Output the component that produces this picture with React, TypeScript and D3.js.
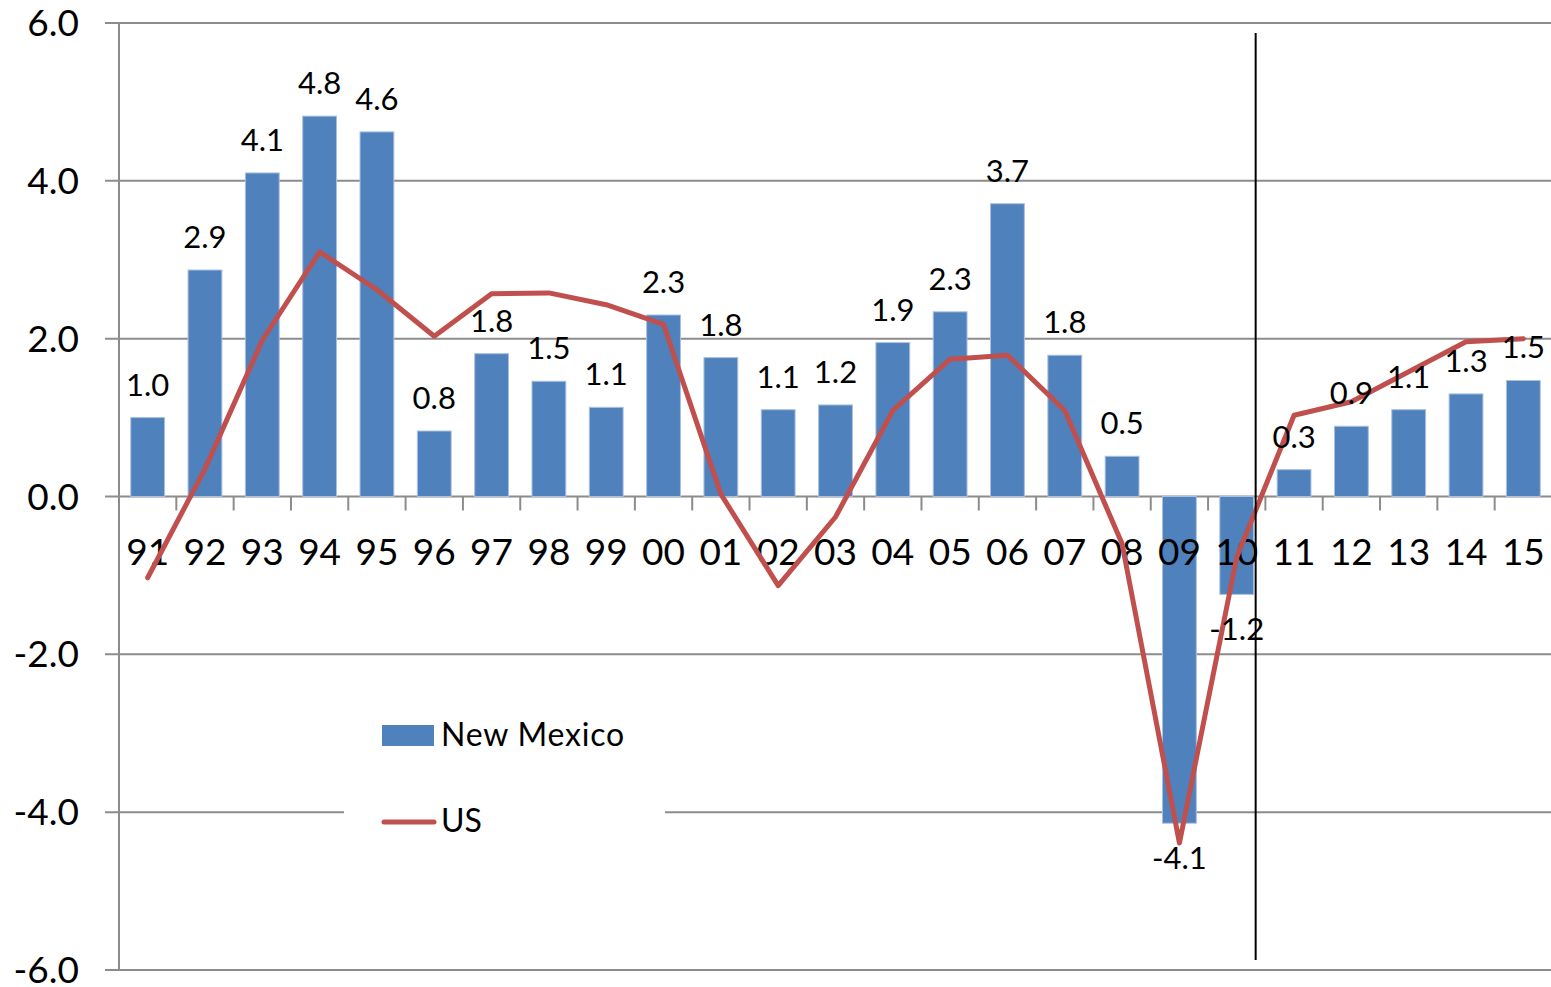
import React, { useEffect, useRef } from 'react';
import * as d3 from 'd3';

const years = ['91', '92', '93', '94', '95', '96', '97', '98', '99', '00', '01', '02', '03', '04', '05', '06', '07', '08', '09', '10', '11', '12', '13', '14', '15'];
const newMexico = [1.0, 2.87, 4.1, 4.82, 4.62, 0.83, 1.81, 1.46, 1.13, 2.3, 1.76, 1.1, 1.16, 1.95, 2.34, 3.71, 1.79, 0.51, -4.14, -1.24, 0.34, 0.89, 1.1, 1.3, 1.47];
const us = [-1.03, 0.35, 1.98, 3.1, 2.62, 2.03, 2.57, 2.58, 2.43, 2.18, 0.03, -1.13, -0.26, 1.09, 1.74, 1.79, 1.09, -0.6, -4.39, -0.77, 1.03, 1.2, 1.58, 1.96, 2.0];
const yTicks = [-6, -4, -2, 0, 2, 4, 6];

const BLUE = '#4F81BD';
const RED = '#C0504D';
const GRID = '#8C8C8C';
const FONT = 'Lato, "Open Sans", sans-serif';

// excel style: plain hyphen for negatives
const fmt = (d: number) => d3.format('.1f')(d).replace('\u2212', '-');

const App: React.FC = () => {
  const ref = useRef<SVGSVGElement | null>(null);

  useEffect(() => {
    const width = 1551;
    const height = 987;
    const left = 119;
    const right = 1552;
    const top = 23;
    const bottom = 970;

    const svg = d3.select(ref.current).attr('width', width).attr('height', height);
    svg.selectAll('*').remove();

    const x = d3.scaleBand<string>().domain(years).range([left, right]).paddingInner(0.41).paddingOuter(0.205);
    const band = d3.scaleBand<string>().domain(years).range([left, right]);
    const y = d3.scaleLinear().domain([-6, 6]).range([bottom, top]);
    const cx = (d: string) => band(d)! + band.bandwidth() / 2;

    // gridlines + y axis labels
    svg.append('g')
      .selectAll('line')
      .data(yTicks)
      .join('line')
      .attr('x1', 105)
      .attr('x2', right)
      .attr('y1', (d) => y(d))
      .attr('y2', (d) => y(d))
      .attr('stroke', GRID)
      .attr('stroke-width', 2);

    svg.append('g')
      .selectAll('text')
      .data(yTicks)
      .join('text')
      .attr('x', 79)
      .attr('y', (d) => y(d) + 13)
      .attr('text-anchor', 'end')
      .attr('font-family', FONT)
      .attr('font-size', 37)
      .attr('fill', '#000')
      .text((d) => fmt(d));

    svg.append('line')
      .attr('x1', left)
      .attr('x2', left)
      .attr('y1', top)
      .attr('y2', bottom)
      .attr('stroke', GRID)
      .attr('stroke-width', 2);

    // x axis ticks at band boundaries
    svg.append('g')
      .selectAll('line')
      .data(years)
      .join('line')
      .attr('x1', (d) => band(d)!)
      .attr('x2', (d) => band(d)!)
      .attr('y1', y(0))
      .attr('y2', y(0) + 14)
      .attr('stroke', GRID)
      .attr('stroke-width', 2);

    // bars
    svg.append('g')
      .selectAll('rect')
      .data(newMexico)
      .join('rect')
      .attr('x', (_, i) => x(years[i])!)
      .attr('width', x.bandwidth())
      .attr('y', (d) => y(Math.max(0, d)))
      .attr('height', (d) => Math.abs(y(d) - y(0)))
      .attr('fill', BLUE)
      .attr('stroke', '#A9C1DF')
      .attr('stroke-width', 1);

    // x labels
    svg.append('g')
      .selectAll('text')
      .data(years)
      .join('text')
      .attr('x', (d) => cx(d))
      .attr('y', 565)
      .attr('text-anchor', 'middle')
      .attr('font-family', FONT)
      .attr('font-size', 37)
      .text((d) => d);

    // US line
    const line = d3.line<number>()
      .x((_, i) => cx(years[i]))
      .y((d) => y(d));

    svg.append('path')
      .datum(us)
      .attr('d', line)
      .attr('fill', 'none')
      .attr('stroke', RED)
      .attr('stroke-width', 5)
      .attr('stroke-linejoin', 'round')
      .attr('stroke-linecap', 'round');

    // data labels
    svg.append('g')
      .selectAll('text')
      .data(newMexico)
      .join('text')
      .attr('x', (_, i) => cx(years[i]))
      .attr('y', (d) => (d >= 0 ? y(d) - 22 : y(d) + 46))
      .attr('text-anchor', 'middle')
      .attr('font-family', FONT)
      .attr('font-size', 31)
      .text((d) => fmt(d));

    // divider between 10 and 11
    const divX = cx('10') + band.bandwidth() * 0.33;
    svg.append('line')
      .attr('x1', divX)
      .attr('x2', divX)
      .attr('y1', 33)
      .attr('y2', 960)
      .attr('stroke', '#000')
      .attr('stroke-width', 2);

    // legend
    const lg = svg.append('g');
    lg.append('rect').attr('x', 344).attr('y', 690).attr('width', 321).attr('height', 170).attr('fill', '#fff');
    lg.append('rect').attr('x', 382).attr('y', 725).attr('width', 52).attr('height', 21).attr('fill', BLUE);
    lg.append('text').attr('x', 441).attr('y', 746).attr('font-family', FONT).attr('font-size', 32)
      .attr('letter-spacing', 0.8).text('New Mexico');
    lg.append('line').attr('x1', 384).attr('x2', 434).attr('y1', 822).attr('y2', 822)
      .attr('stroke', RED).attr('stroke-width', 5).attr('stroke-linecap', 'round');
    lg.append('text').attr('x', 441).attr('y', 832).attr('font-family', FONT).attr('font-size', 32).text('US');
  }, []);

  return <svg ref={ref} style={{ position: 'absolute', left: 0, top: 0 }} />;
};

export default App;
